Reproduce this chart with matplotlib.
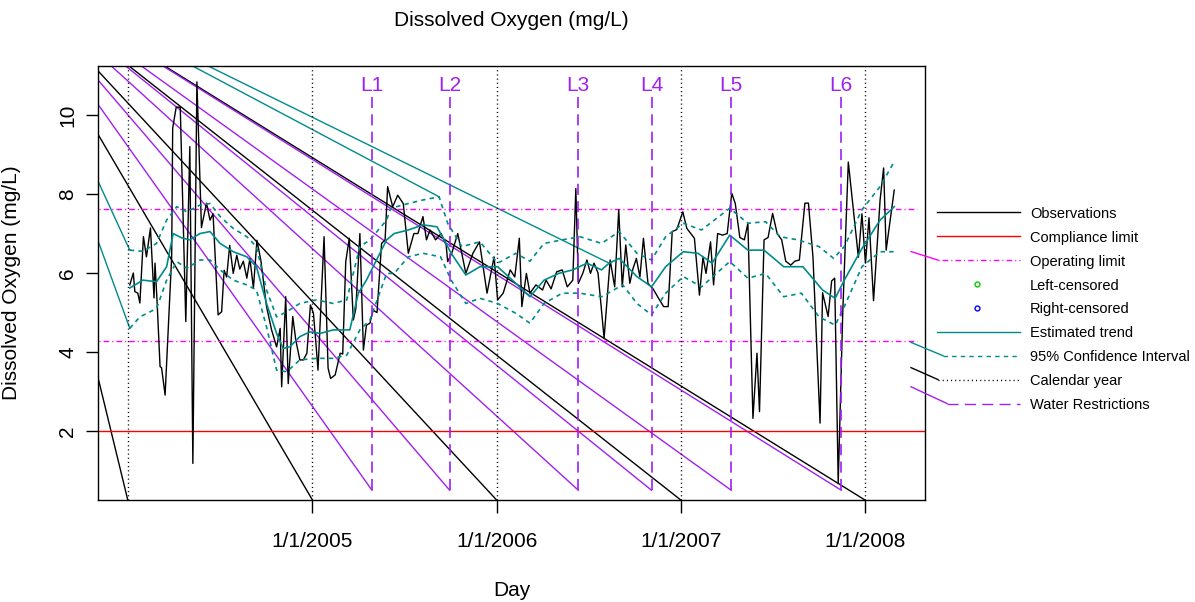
import numpy as np
import matplotlib
matplotlib.use('Agg')
import matplotlib.pyplot as plt
import matplotlib.dates as mdates
from matplotlib.lines import Line2D

plt.rcParams['font.family'] = ['Liberation Sans', 'DejaVu Sans']
plt.rcParams['lines.scale_dashes'] = False

# ---------------- data (days counted from 1 Jan 2005) ----------------
ORIGIN = np.datetime64('2005-01-01')

obs_day = [-362, -355, -352, -346, -342, -335, -329, -321, -314, -312, -308, -302, -299, -292,
           -279, -277, -270, -262, -251, -243, -237, -229, -220, -210, -203, -197, -187, -180,
           -175, -170, -164, -157, -150, -144, -137, -130, -124, -117, -110, -102, -91, -81,
           -71, -64, -61, -53, -48, -39, -33, -25, -18, -11, -4, 2, 7, 11, 23, 31, 36, 45, 55,
           60, 66, 73, 81, 86, 94, 101, 107, 114, 120, 128, 137, 144, 149, 159, 169, 180, 190,
           201, 209, 219, 226, 233, 244, 255, 265, 268, 276, 288, 304, 318, 331, 346, 360, 367,
           378, 392, 401, 410, 415, 424, 431, 443, 456, 463, 473, 484, 495, 505, 516, 522, 527,
           536, 544, 551, 558, 566, 578, 590, 599, 607, 614, 621, 629, 635, 642, 649, 656, 665,
           675, 686, 696, 705, 713, 722, 734, 742, 757, 767, 774, 780, 789, 795, 803, 813, 822,
           831, 838, 847, 856, 863, 873, 881, 886, 895, 903, 912, 921, 930, 938, 948, 956, 965,
           976, 983, 992, 1006, 1011, 1022, 1029, 1035, 1042, 1051, 1062, 1082, 1089, 1096,
           1103, 1112, 1125, 1132, 1137, 1153]
obs_val = [5.7, 6.0, 5.53, 5.49, 5.24, 6.92, 6.41, 7.14, 5.37, 6.25, 5.3, 3.63, 3.6, 2.91,
           6.41, 9.67, 10.2, 10.2, 4.77, 9.2, 1.18, 10.84, 7.15, 7.77, 7.34, 7.5, 4.94, 5.02,
           6.07, 5.9, 6.7, 5.99, 6.45, 6.1, 6.3, 5.87, 6.37, 5.62, 6.83, 6.3, 5.15, 4.56,
           4.13, 4.6, 3.12, 5.4, 3.2, 4.9, 4.3, 3.8, 3.8, 3.97, 5.19, 4.98, 4.2, 3.54, 6.92, 3.59,
           3.33, 3.42, 3.97, 3.95, 6.29, 6.88, 4.81, 5.1, 7.0, 4.05, 4.68, 4.73, 5.06, 5.0, 6.75,
           6.84, 8.19, 7.68, 7.97, 7.76, 6.5, 7.0, 7.0, 7.43, 6.84, 7.09, 6.84, 7.0, 6.71, 6.29,
           6.5, 7.0, 5.99, 6.5, 6.79, 5.49, 6.41, 5.32, 5.49, 6.08, 5.9, 6.88, 5.15, 5.99, 5.49,
           5.7, 5.57, 5.82, 5.6, 6.03, 6.08, 5.65, 5.82, 8.14, 5.74, 6.0, 6.33, 5.99, 6.25, 6.0,
           4.35, 6.33, 5.65, 7.6, 5.65, 6.71, 5.74, 6.1, 6.37, 5.9, 6.88, 5.74, 5.6, 5.36, 5.15,
           5.15, 7.05, 7.1, 7.55, 7.13, 6.88, 5.44, 6.4, 5.99, 6.79, 5.7, 7.0, 6.96, 7.0, 8.02,
           7.76, 6.9, 6.84, 7.26, 2.32, 3.97, 2.49, 6.84, 6.9, 7.51, 7.0, 6.84, 6.3, 6.2, 6.3,
           6.33, 7.77, 7.77, 6.4, 2.2, 5.5, 4.9, 5.8, 5.87, 0.68, 5.0, 8.81, 6.4, 7.5, 6.25,
           7.4, 5.3, 7.85, 8.66, 6.58, 8.1]

trend_day = [-362, -336, -309, -289, -276, -259, -243, -223, -203, -183, -157, -130, -111, -91,
             -71, -58, -45, -25, -5, 15, 41, 74, 91, 107, 127, 147, 162, 190, 219, 247, 275,
             304, 332, 367, 403, 431, 459, 488, 516, 544, 573, 588, 608, 643, 672, 700, 735,
             764, 792, 827, 863, 895, 934, 972, 1011, 1036, 1054, 1089, 1125, 1153]
trend_val = [5.62, 5.82, 5.78, 6.16, 7.0, 6.89, 6.84, 7.0, 7.05, 6.75, 6.54, 6.41, 6.16, 5.23,
             4.47, 4.09, 4.13, 4.39, 4.51, 4.47, 4.56, 4.56, 5.49, 5.82, 6.33, 6.84, 7.0, 7.09,
             7.22, 7.17, 6.5, 5.95, 6.16, 6.16, 5.74, 5.4, 5.82, 5.99, 6.08, 6.25, 6.08, 6.25,
             6.37, 5.91, 5.65, 6.16, 6.54, 6.5, 6.25, 6.96, 6.58, 6.58, 6.16, 6.16, 5.57, 5.36,
             5.82, 6.62, 7.34, 7.68]

ci_up_day = [-362, -336, -309, -289, -269, -249, -223, -203, -183, -157, -130, -111, -91, -71,
             -51, -25, 8, 41, 68, 94, 114, 147, 155, 190, 219, 251, 268, 296, 332, 367, 403,
             431, 459, 495, 530, 573, 608, 643, 672, 700, 735, 771, 827, 863, 898, 927, 962,
             1004, 1033, 1054, 1089, 1125, 1153]
ci_up_val = [6.58, 6.55, 6.75, 7.34, 7.68, 7.55, 7.72, 7.76, 7.43, 7.13, 6.92, 6.67, 5.57, 4.89,
             5.02, 5.23, 5.32, 5.23, 5.32, 6.67, 6.84, 7.34, 7.64, 7.76, 7.85, 7.93, 7.26, 6.67,
             6.79, 6.25, 6.5, 6.3, 6.75, 6.84, 6.92, 6.75, 7.05, 6.5, 6.33, 6.92, 7.26, 7.09,
             7.64, 7.26, 7.3, 6.92, 6.84, 6.67, 6.37, 6.67, 7.6, 8.19, 8.82]

ci_lo_day = [-362, -342, -309, -289, -269, -249, -223, -203, -183, -157, -130, -111, -91, -71,
             -51, -25, 8, 41, 68, 94, 114, 147, 162, 190, 219, 254, 275, 304, 332, 367, 403,
             431, 459, 495, 530, 573, 615, 643, 672, 700, 735, 771, 827, 863, 898, 934, 969,
             1004, 1036, 1054, 1089, 1125, 1153]
ci_lo_val = [4.6, 4.89, 5.1, 5.82, 6.29, 6.12, 6.33, 6.33, 6.08, 5.82, 5.7, 5.57, 4.64, 3.54,
             3.5, 3.8, 3.84, 3.84, 3.92, 4.56, 4.81, 5.99, 5.99, 6.41, 6.5, 6.41, 5.82, 5.23,
             5.36, 5.23, 4.98, 4.73, 5.23, 5.49, 5.49, 5.4, 5.7, 5.23, 4.94, 5.49, 5.91, 5.65,
             6.29, 5.87, 5.99, 5.4, 5.49, 4.89, 4.68, 5.15, 6.16, 6.54, 6.54]

compliance_limit = 2.0
operating_limits = [7.62, 4.28]
calendar_years = ['2004-01-01', '2005-01-01', '2006-01-01', '2007-01-01', '2008-01-01']
tick_dates = ['2005-01-01', '2006-01-01', '2007-01-01', '2008-01-01']
tick_labels = ['1/1/2005', '1/1/2006', '1/1/2007', '1/1/2008']
restriction_dates = ['2005-04-29', '2005-09-30', '2006-06-12', '2006-11-04', '2007-04-11', '2007-11-15']
restriction_labels = ['L1', 'L2', 'L3', 'L4', 'L5', 'L6']
restriction_range = [0.5, 10.55]
y_ticks = [2, 4, 6, 8, 10]

# stray connector lines of the original device: common origin and the points they reach
stray_origin_day, stray_origin_val = -625, 13.87
teal_stray_day = [ci_up_day[0], ci_lo_day[0], 251, 588]
teal_stray_val = [ci_up_val[0], ci_lo_val[0], 7.93, 6.25]

x_lim_days = [-425, 1214]
y_lim = [0.253, 11.25]

# ---------------- styling ----------------
TEAL = '#008B8B'
PURPLE = '#A020F0'
MAGENTA = '#FF00FF'
LW = 1.0
DASH_CI = (0, (3.2, 3.0))
DASH_CAL = (0, (0.8, 2.2))
DASH_OP = (0, (0.8, 2.2, 4.0, 2.2))
DASH_WR = (0, (8.0, 4.5))


def d(days):
    return ORIGIN + np.asarray(days).astype('timedelta64[D]')


W, H = 1195, 602
fig = plt.figure(figsize=(W / 100, H / 100), dpi=100)
ax = fig.add_axes([98 / W, 1 - 500 / H, (925 - 98) / W, (500 - 65.7) / H])

ymin = y_lim[0]
origin_pt = d(stray_origin_day)

# stray connectors
for cy in calendar_years:
    ax.plot([origin_pt, np.datetime64(cy)], [stray_origin_val, ymin], color='black', lw=LW)
for rd in restriction_dates:
    ax.plot([origin_pt, np.datetime64(rd)], [stray_origin_val, restriction_range[0]], color=PURPLE, lw=LW)
for td, tv in zip(teal_stray_day, teal_stray_val):
    ax.plot([origin_pt, d(td)], [stray_origin_val, tv], color=TEAL, lw=LW)

# reference lines
ax.axhline(compliance_limit, color='red', lw=LW)
for ol in operating_limits:
    ax.plot(d([x_lim_days[0] + 2, 1198]), [ol, ol], color=MAGENTA, lw=LW, linestyle=DASH_OP)
for cy in calendar_years:
    ax.axvline(np.datetime64(cy), color='black', lw=LW, linestyle=DASH_CAL)

# observations, trend, CI
ax.plot(d(obs_day), obs_val, color='black', lw=LW)
ax.plot(d(trend_day), trend_val, color=TEAL, lw=LW * 1.2)
ax.plot(d(ci_up_day), ci_up_val, color=TEAL, lw=LW * 1.2, linestyle=DASH_CI)
ax.plot(d(ci_lo_day), ci_lo_val, color=TEAL, lw=LW * 1.2, linestyle=DASH_CI)

# water restrictions
for rd, lab in zip(restriction_dates, restriction_labels):
    t = np.datetime64(rd)
    ax.plot([t, t], restriction_range, color=PURPLE, lw=LW * 1.2, linestyle=DASH_WR)
    ax.text(t, 10.75, lab, color=PURPLE, fontsize=15, ha='center', va='center')

ax.set_xlim(d(x_lim_days[0]), d(x_lim_days[1]))
ax.set_ylim(*y_lim)
ax.set_xticks([np.datetime64(t) for t in tick_dates])
ax.set_xticklabels(tick_labels)
ax.set_yticks(y_ticks)
ax.set_yticklabels([str(v) for v in y_ticks])
ax.tick_params(axis='both', direction='out', length=9, width=1, labelsize=15, colors='black')
ax.tick_params(axis='x', pad=14)
ax.tick_params(axis='y', pad=6)
for lab in ax.get_yticklabels():
    lab.set_rotation(90)
    lab.set_va('center')
for sp in ax.spines.values():
    sp.set_linewidth(1.0)
    sp.set_color('black')

ax.set_ylabel('Dissolved Oxygen (mg/L)', fontsize=15)
ax.yaxis.set_label_coords((21 - 98) / 827, 0.5)

fig.text(511.5 / W, 1 - 20 / H, 'Dissolved Oxygen (mg/L)', fontsize=15, ha='center', va='center')
fig.text(511.5 / W, 1 - 590 / H, 'Day', fontsize=15, ha='center', va='center')

# ---------------- legend (manual, outside the plot) ----------------
leg_labels = ['Observations', 'Compliance limit', 'Operating limit', 'Left-censored',
              'Right-censored', 'Estimated trend', '95% Confidence Interval', 'Calendar year',
              'Water Restrictions']
leg_colors = ['black', 'red', MAGENTA, '#00CD00', 'blue', TEAL, TEAL, 'black', PURPLE]
leg_styles = ['-', '-', DASH_OP, None, None, '-', DASH_CI, DASH_CAL, DASH_WR]
leg_start = [937, 937, 938, None, None, 937, 943, 938, 947]
row0, drow = 212.3, 23.9
x_end, x_text, x_mark = 1020, 1030, 977


def fx(px):
    return px / W


def fy(py):
    return 1 - py / H


P_disp = ax.transData.transform([[mdates.date2num(origin_pt), stray_origin_val]])[0]
clip_x = 911
for i, (lab, col, ls, xs) in enumerate(zip(leg_labels, leg_colors, leg_styles, leg_start)):
    yy = row0 + i * drow
    fig.text(fx(x_text), fy(yy + 1.5), lab, fontsize=10.5, ha='left', va='center')
    if ls is None:
        fig.add_artist(Line2D([fx(x_mark)], [fy(yy)], marker='o', markersize=3.5,
                              markerfacecolor='none', markeredgecolor=col, markeredgewidth=1,
                              linestyle='none', transform=fig.transFigure))
        continue
    fig.add_artist(Line2D([fx(xs), fx(x_end)], [fy(yy), fy(yy)], color=col, lw=LW,
                          linestyle=ls, transform=fig.transFigure))
    if ls != '-':
        ty = H - yy
        t = (clip_x - P_disp[0]) / (xs - P_disp[0])
        y_at = P_disp[1] + t * (ty - P_disp[1])
        fig.add_artist(Line2D([fx(clip_x), fx(xs)], [y_at / H, ty / H], color=col, lw=LW,
                              transform=fig.transFigure))

fig.savefig('out.png', dpi=100)
